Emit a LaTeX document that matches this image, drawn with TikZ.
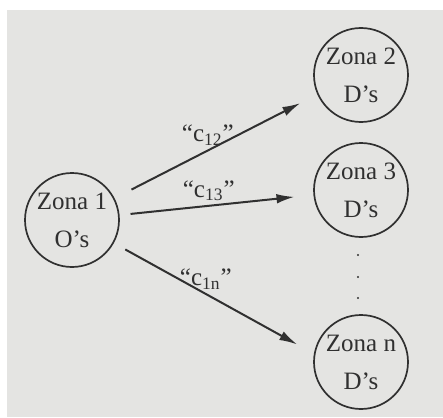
\documentclass[tikz,border=0pt]{standalone}
\usepackage{fontspec}
\setmainfont{Liberation Serif}
\usetikzlibrary{arrows.meta}

\definecolor{paper}{RGB}{228,228,226}
\definecolor{ink}{RGB}{48,48,48}

\begin{document}
\begin{tikzpicture}[x=0.5pt,y=-0.5pt,
  zone/.style={circle,draw=ink,line width=0.85pt,minimum size=47pt,inner sep=0pt,
    align=center,text=ink,text depth=-4pt,font=\fontsize{12.5}{19}\selectfont},
  flow/.style={draw=ink,line width=1pt,-{Latex[length=9pt,width=4.8pt]},
    shorten <=9.5pt,shorten >=9.5pt},
  cost/.style={text=ink,font=\fontsize{12.5}{14}\selectfont,above=1pt,pos=0.46,inner sep=1pt}]
\useasboundingbox (0,0) rectangle (443,417);
\fill[white] (0,0) rectangle (443,417);
\fill[paper] (7,10) rectangle (443,417);

% origin zone and destination zones
\node[zone] (z1) at (72,220) {Zona 1\\O’s};
\node[zone] (z2) at (361,75) {Zona 2\\D’s};
\node[zone] (z3) at (361,190) {Zona 3\\D’s};
\node[zone] (zn) at (361,362) {Zona n\\D’s};

% vertical dots between zona 3 and zona n
\foreach \y in {255,277,298}
  \fill[ink] (358,\y) circle (0.6pt);

\draw[flow] (z1) -- (z2.204) node[cost] {“c\textsubscript{12}”};
\draw[flow,shorten <=5.5pt] (z1) -- (z3) node[cost] {“c\textsubscript{13}”};
\draw[flow,shorten <=6.5pt] (z1) -- (zn.170) node[cost] {“c\textsubscript{1n}”};
\end{tikzpicture}
\end{document}
